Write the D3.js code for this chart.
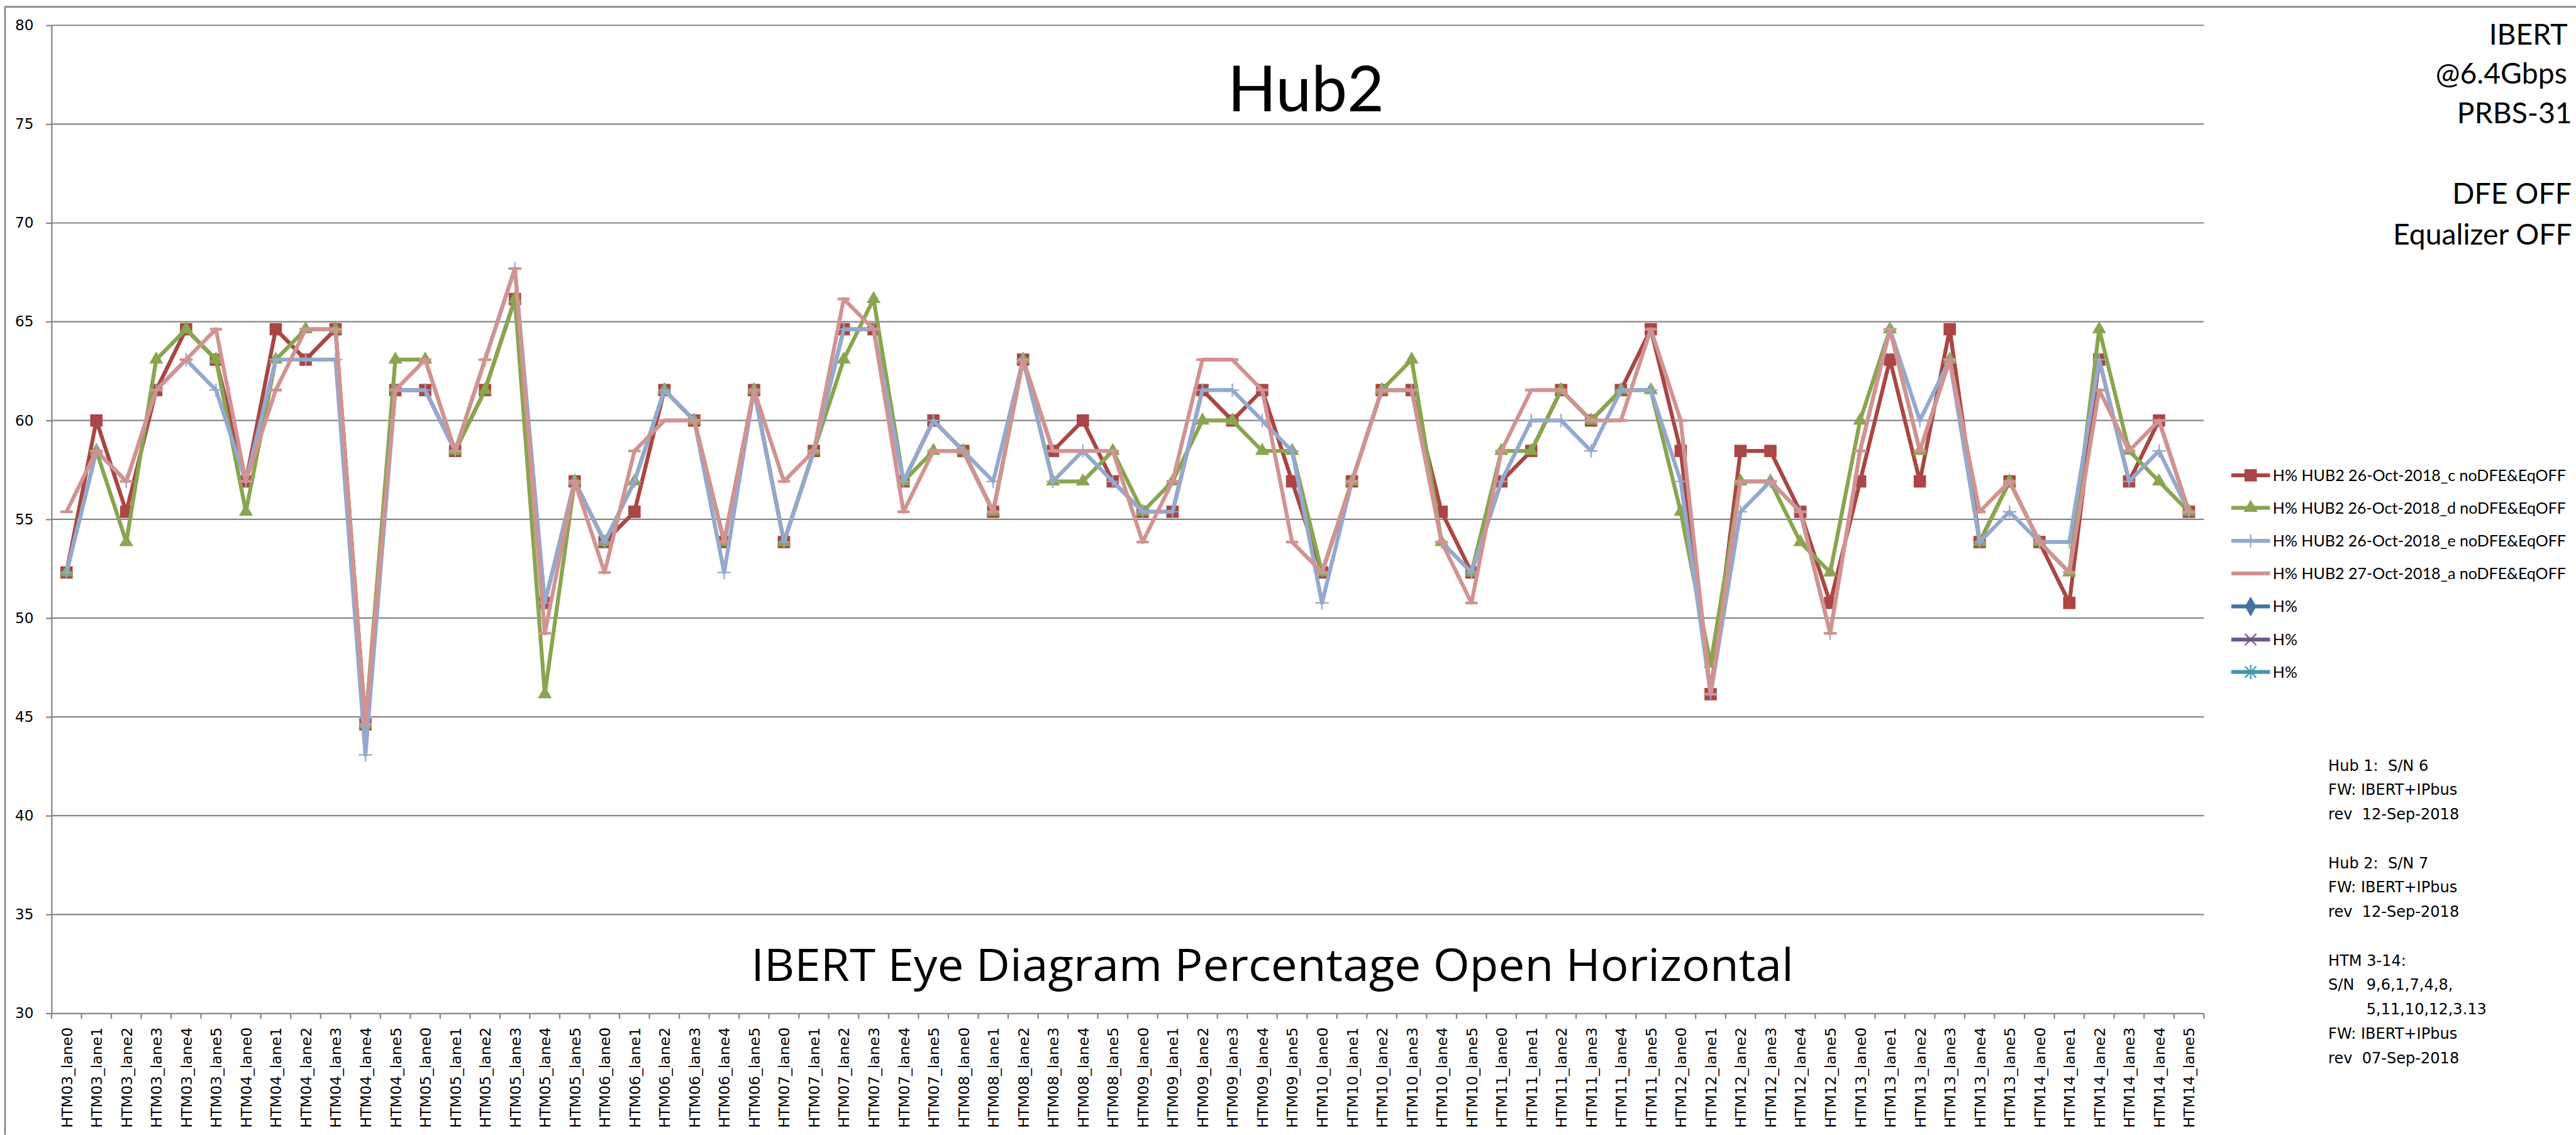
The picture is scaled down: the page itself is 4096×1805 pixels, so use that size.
<!DOCTYPE html>
<html>
<head>
<meta charset="utf-8">
<script src="https://cdn.jsdelivr.net/npm/d3@7"></script>
<style>
  html, body { margin: 0; padding: 0; background: #fff; overflow: hidden; }
</style>
</head>
<body>
<div id="chart"></div>
<script>
// categories: 12 HTM modules x 6 lanes
const modules = ["HTM03", "HTM04", "HTM05", "HTM06", "HTM07", "HTM08",
                 "HTM09", "HTM10", "HTM11", "HTM12", "HTM13", "HTM14"];
const lanes = ["lane0", "lane1", "lane2", "lane3", "lane4", "lane5"];
const categories = modules.flatMap((m) => lanes.map((l) => `${m}_${l}`));

// H% values (eye opening, percent)
const hub2Oct26c = [
  52.31, 60.00, 55.38, 61.54, 64.62, 63.08, 56.92, 64.62, 63.08, 64.62, 44.62, 61.54,
  61.54, 58.46, 61.54, 66.15, 50.77, 56.92, 53.85, 55.38, 61.54, 60.00, 53.85, 61.54,
  53.85, 58.46, 64.62, 64.62, 56.92, 60.00, 58.46, 55.38, 63.08, 58.46, 60.00, 56.92,
  55.38, 55.38, 61.54, 60.00, 61.54, 56.92, 52.31, 56.92, 61.54, 61.54, 55.38, 52.31,
  56.92, 58.46, 61.54, 60.00, 61.54, 64.62, 58.46, 46.15, 58.46, 58.46, 55.38, 50.77,
  56.92, 63.08, 56.92, 64.62, 53.85, 56.92, 53.85, 50.77, 63.08, 56.92, 60.00, 55.38,
];
const hub2Oct26d = [
  52.31, 58.46, 53.85, 63.08, 64.62, 63.08, 55.38, 63.08, 64.62, 64.62, 44.62, 63.08,
  63.08, 58.46, 61.54, 66.15, 46.15, 56.92, 53.85, 56.92, 61.54, 60.00, 53.85, 61.54,
  53.85, 58.46, 63.08, 66.15, 56.92, 58.46, 58.46, 55.38, 63.08, 56.92, 56.92, 58.46,
  55.38, 56.92, 60.00, 60.00, 58.46, 58.46, 52.31, 56.92, 61.54, 63.08, 53.85, 52.31,
  58.46, 58.46, 61.54, 60.00, 61.54, 61.54, 55.38, 47.69, 56.92, 56.92, 53.85, 52.31,
  60.00, 64.62, 58.46, 63.08, 53.85, 56.92, 53.85, 52.31, 64.62, 58.46, 56.92, 55.38,
];
const hub2Oct26e = [
  52.31, 58.46, 56.92, 61.54, 63.08, 61.54, 56.92, 63.08, 63.08, 63.08, 43.08, 61.54,
  61.54, 58.46, 63.08, 67.69, 50.77, 56.92, 53.85, 56.92, 61.54, 60.00, 52.31, 61.54,
  53.85, 58.46, 64.62, 64.62, 56.92, 60.00, 58.46, 56.92, 63.08, 56.92, 58.46, 56.92,
  55.38, 55.38, 61.54, 61.54, 60.00, 58.46, 50.77, 56.92, 61.54, 61.54, 53.85, 52.31,
  56.92, 60.00, 60.00, 58.46, 61.54, 61.54, 56.92, 46.15, 55.38, 56.92, 55.38, 49.23,
  58.46, 64.62, 60.00, 63.08, 53.85, 55.38, 53.85, 53.85, 63.08, 56.92, 58.46, 55.38,
];
const hub2Oct27a = [
  55.38, 58.46, 56.92, 61.54, 63.08, 64.62, 56.92, 61.54, 64.62, 64.62, 44.62, 61.54,
  63.08, 58.46, 63.08, 67.69, 49.23, 56.92, 52.31, 58.46, 60.00, 60.00, 53.85, 61.54,
  56.92, 58.46, 66.15, 64.62, 55.38, 58.46, 58.46, 55.38, 63.08, 58.46, 58.46, 58.46,
  53.85, 56.92, 63.08, 63.08, 61.54, 53.85, 52.31, 56.92, 61.54, 61.54, 53.85, 50.77,
  58.46, 61.54, 61.54, 60.00, 60.00, 64.62, 60.00, 46.15, 56.92, 56.92, 55.38, 49.23,
  58.46, 64.62, 58.46, 63.08, 55.38, 56.92, 53.85, 52.31, 61.54, 58.46, 60.00, 55.38,
];
const hPctBlue = [];
const hPctPurple = [];
const hPctTeal = [];

const yTicks = [30, 35, 40, 45, 50, 55, 60, 65, 70, 75, 80];

const seriesNames = [
  "H% HUB2 26-Oct-2018_c noDFE&EqOFF",
  "H% HUB2 26-Oct-2018_d noDFE&EqOFF",
  "H% HUB2 26-Oct-2018_e noDFE&EqOFF",
  "H% HUB2 27-Oct-2018_a noDFE&EqOFF",
  "H%",
  "H%",
  "H%",
];

const infoLines = ["IBERT", "@6.4Gbps", "PRBS-31", "", "DFE OFF", "Equalizer OFF"];
const noteLines = [
  "Hub 1:  S/N 6", "FW: IBERT+IPbus", "rev  12-Sep-2018", "",
  "Hub 2:  S/N 7", "FW: IBERT+IPbus", "rev  12-Sep-2018", "",
  "HTM 3-14:", "S/N", "", "FW: IBERT+IPbus", "rev  07-Sep-2018",
];

// drawing in reference pixels, scaled down by the viewBox
const W = 4596;
const H = 2025;
const plot = { left: 92, right: 3932, top: 45, bottom: 1808 };
const grey = "#868686";

const svg = d3
  .select("#chart")
  .append("svg")
  .attr("width", 4096)
  .attr("height", 1805)
  .attr("viewBox", [0, 0, W, H]);

svg.append("rect").attr("width", W).attr("height", H).attr("fill", "#fff");
svg
  .append("path")
  .attr("d", `M9,${H}V12H${W}`)
  .attr("fill", "none")
  .attr("stroke", grey)
  .attr("stroke-width", 3);

const x = d3.scaleBand().domain(categories).range([plot.left, plot.right]);
const y = d3.scaleLinear().domain([30, 80]).range([plot.bottom, plot.top]);
const cx = (i) => x(categories[i]) + x.bandwidth() / 2;

// horizontal gridlines
svg
  .append("g")
  .selectAll("line")
  .data(yTicks.filter((v) => v > 30))
  .join("line")
  .attr("x1", plot.left)
  .attr("x2", plot.right)
  .attr("y1", (d) => y(d))
  .attr("y2", (d) => y(d))
  .attr("stroke", grey)
  .attr("stroke-width", 2.5);

// y axis
const yAxis = svg
  .append("g")
  .attr("transform", `translate(${plot.left},0)`)
  .call(
    d3.axisLeft(y).tickValues(yTicks).tickSize(10).tickSizeOuter(0).tickPadding(22).tickFormat(d3.format("d")),
  );
yAxis.selectAll("path, line").attr("stroke", grey).attr("stroke-width", 2.5);
yAxis
  .selectAll("text")
  .attr("font-family", "DejaVu Sans")
  .attr("font-size", 26)
  .attr("fill", "#000");

// x axis, labels rotated, ticks on the category boundaries
const xAxis = svg
  .append("g")
  .attr("transform", `translate(0,${plot.bottom})`)
  .call(d3.axisBottom(x).tickSize(0).tickSizeOuter(0));
xAxis.select(".domain").attr("stroke", grey).attr("stroke-width", 2.5);
xAxis
  .selectAll(".tick text")
  .attr("transform", "rotate(-90)")
  .attr("x", -25)
  .attr("y", 10)
  .attr("dy", 0)
  .attr("text-anchor", "end")
  .attr("font-family", "DejaVu Sans")
  .attr("font-size", 26.5)
  .attr("fill", "#000");

svg
  .append("g")
  .selectAll("line")
  .data([...categories.map((c) => x(c)), plot.right])
  .join("line")
  .attr("x1", (d) => d)
  .attr("x2", (d) => d)
  .attr("y1", plot.bottom)
  .attr("y2", plot.bottom + 10)
  .attr("stroke", grey)
  .attr("stroke-width", 2.5);

// marker shapes
const markers = {
  square: { d: d3.symbol(d3.symbolSquare, 484)(), fill: true },
  triangle: { d: d3.symbol(d3.symbolTriangle, 270)(), fill: true },
  plus: { d: "M-12,0H12M0,-12V12", fill: false, width: 2.5 },
  dash: { d: "M-11,0H11", fill: false, width: 5 },
  diamond: { d: d3.symbol(d3.symbolDiamond, 360)(), fill: true },
  cross: { d: "M-10,-10L10,10M-10,10L10,-10", fill: false, width: 2.5 },
  star: { d: "M-10,-10L10,10M-10,10L10,-10M0,-13V13", fill: false, width: 2.5 },
};

const series = [
  { name: seriesNames[0], values: hub2Oct26c, color: "#AA4643", marker: "square" },
  { name: seriesNames[1], values: hub2Oct26d, color: "#89A54E", marker: "triangle" },
  { name: seriesNames[2], values: hub2Oct26e, color: "#93A9CF", marker: "plus" },
  { name: seriesNames[3], values: hub2Oct27a, color: "#D19392", marker: "dash" },
  { name: seriesNames[4], values: hPctBlue, color: "#4572A7", marker: "diamond" },
  { name: seriesNames[5], values: hPctPurple, color: "#71588F", marker: "cross" },
  { name: seriesNames[6], values: hPctTeal, color: "#4198AF", marker: "star" },
];

const styleMarker = (sel, s) => {
  const m = markers[s.marker];
  sel
    .attr("d", m.d)
    .attr("fill", m.fill ? s.color : "none")
    .attr("stroke", s.color)
    .attr("stroke-width", m.fill ? 0 : m.width);
};

const line = d3
  .line()
  .x((d, i) => cx(i))
  .y((d) => y(d));

const seriesG = svg.append("g");
series.forEach((s) => {
  if (!s.values.length) return;
  const g = seriesG.append("g");
  g.append("path")
    .attr("d", line(s.values))
    .attr("fill", "none")
    .attr("stroke", s.color)
    .attr("stroke-width", 7)
    .attr("stroke-linejoin", "round");
  g.selectAll(".mk")
    .data(s.values)
    .join("path")
    .attr("class", "mk")
    .attr("transform", (d, i) => `translate(${cx(i)},${y(d)})`)
    .call(styleMarker, s);
});

// legend
const legendRows = [848, 906, 965, 1023, 1082, 1141, 1199];
const legend = svg
  .append("g")
  .selectAll("g")
  .data(series)
  .join("g")
  .attr("transform", (d, i) => `translate(3981,${legendRows[i]})`);
legend
  .append("line")
  .attr("x1", 0)
  .attr("x2", 69)
  .attr("stroke", (d) => d.color)
  .attr("stroke-width", 7);
legend.each(function (s) {
  d3.select(this)
    .append("path")
    .attr("transform", "translate(34.5,0)")
    .call(styleMarker, s);
});
legend
  .append("text")
  .attr("x", 74)
  .attr("y", 10)
  .attr("font-family", "Lato")
  .attr("font-size", 28)
  .attr("fill", "#000")
  .each(function (d) {
    if (d.name.length > 5) d3.select(this).attr("textLength", 523).attr("lengthAdjust", "spacingAndGlyphs");
  })
  .text((d) => d.name);

// titles
svg
  .append("text")
  .attr("x", 2330)
  .attr("y", 199)
  .attr("text-anchor", "middle")
  .attr("font-family", "Lato")
  .attr("font-size", 114)
  .attr("fill", "#000")
  .text("Hub2");

svg
  .append("text")
  .attr("x", 2270)
  .attr("y", 1750)
  .attr("text-anchor", "middle")
  .attr("font-family", "Open Sans")
  .attr("font-size", 80)
  .attr("textLength", 1860)
  .attr("lengthAdjust", "spacingAndGlyphs")
  .attr("fill", "#000")
  .text("IBERT Eye Diagram Percentage Open Horizontal");

// top-right info block
const infoBase = [79, 149, 220, 291, 363, 436];
const infoRight = [4581, 4580, 4589, 4589, 4588, 4589];
svg
  .append("g")
  .selectAll("text")
  .data(infoLines)
  .join("text")
  .attr("x", (d, i) => infoRight[i])
  .attr("y", (d, i) => infoBase[i])
  .attr("text-anchor", "end")
  .attr("font-family", "Lato")
  .attr("font-size", 52)
  .attr("fill", "#000")
  .text((d) => d);

// hardware notes
const notes = svg
  .append("g")
  .attr("font-family", "DejaVu Sans")
  .attr("font-size", 27)
  .attr("fill", "#000");
notes
  .selectAll("text")
  .data(noteLines)
  .join("text")
  .attr("x", 4154)
  .attr("y", (d, i) => 1375 + i * 43.5)
  .attr("xml:space", "preserve")
  .text((d) => d);
const snList = ["9,6,1,7,4,8,", "5,11,10,12,3.13"];
notes
  .selectAll(".sn")
  .data(snList)
  .join("text")
  .attr("class", "sn")
  .attr("x", 4222)
  .attr("y", (d, i) => 1375 + (9 + i) * 43.5)
  .text((d) => d);
</script>
</body>
</html>
